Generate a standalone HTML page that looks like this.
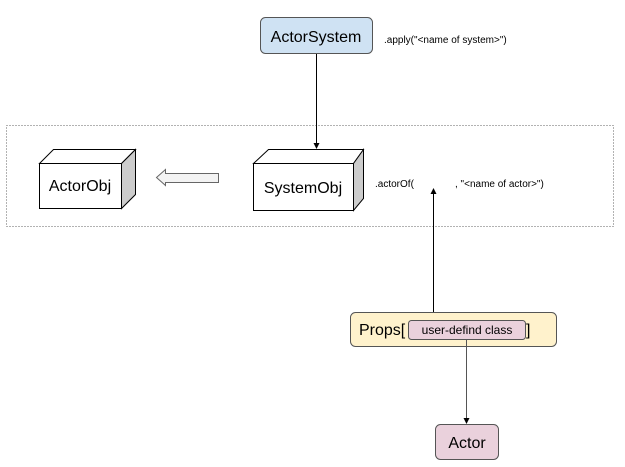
<!DOCTYPE html>
<html><head><style>
html,body{margin:0;padding:0;background:#fff;}
</style></head><body>
<svg width="625" height="467" xmlns="http://www.w3.org/2000/svg" style="display:block;font-family:'Liberation Sans',Arial,sans-serif">
<defs>
<marker id="ah" markerWidth="6" markerHeight="6" refX="5" refY="3" orient="auto" markerUnits="userSpaceOnUse">
<path d="M0,0 L6,3 L0,6 z" fill="#000"/>
</marker>
</defs>
<rect x="6.5" y="125.5" width="607" height="101" fill="none" stroke="#666" stroke-dasharray="1,2"/>
<rect x="260.5" y="17.5" width="112" height="36" rx="5" fill="#cfe2f3" stroke="#555"/>
<text x="316" y="42" font-size="16" text-anchor="middle">ActorSystem</text>
<text x="384" y="43" font-size="10">.apply("&lt;name of system&gt;")</text>
<line x1="316.5" y1="54" x2="316.5" y2="148" stroke="#000" marker-end="url(#ah)"/>
<g stroke="#000" fill="#fff">
<polygon points="39.5,163.5 53.5,149.5 135.5,149.5 121.5,163.5"/>
<polygon points="121.5,163.5 135.5,149.5 135.5,194.5 121.5,208.5" fill="#ccc"/>
<rect x="39.5" y="163.5" width="82" height="45"/>
<polygon points="253.5,163.5 268.5,149.5 363.5,149.5 353.5,163.5"/>
<polygon points="353.5,163.5 363.5,149.5 363.5,198.5 353.5,210.5" fill="#ccc"/>
<rect x="253.5" y="163.5" width="100" height="47"/>
</g>
<text x="80" y="191" font-size="16" text-anchor="middle">ActorObj</text>
<text x="303" y="193" font-size="16" text-anchor="middle">SystemObj</text>
<polygon points="156.5,177.5 165.5,169.5 165.5,173.5 218.5,173.5 218.5,182.5 165.5,182.5 165.5,185.5" fill="#f3f3f3" stroke="#666"/>
<text x="375" y="187" font-size="10">.actorOf(</text>
<text x="455" y="187" font-size="10">, "&lt;name of actor&gt;")</text>
<line x1="433.5" y1="312" x2="433.5" y2="189" stroke="#000" marker-end="url(#ah)"/>
<rect x="350.5" y="312.5" width="206" height="34" rx="5" fill="#fff2cc" stroke="#555"/>
<text x="359" y="335" font-size="16">Props[</text>
<text x="526" y="335" font-size="16">]</text>
<rect x="408.5" y="320.5" width="117" height="19" rx="3" fill="#ead1dc" stroke="#555"/>
<text x="467" y="334" font-size="12" text-anchor="middle">user-defind class</text>
<line x1="466.5" y1="340" x2="466.5" y2="423" stroke="#555" marker-end="url(#ah)"/>
<rect x="435.5" y="424.5" width="63" height="35" rx="5" fill="#ead1dc" stroke="#555"/>
<text x="467" y="448" font-size="16" text-anchor="middle">Actor</text>
</svg>
</body></html>
